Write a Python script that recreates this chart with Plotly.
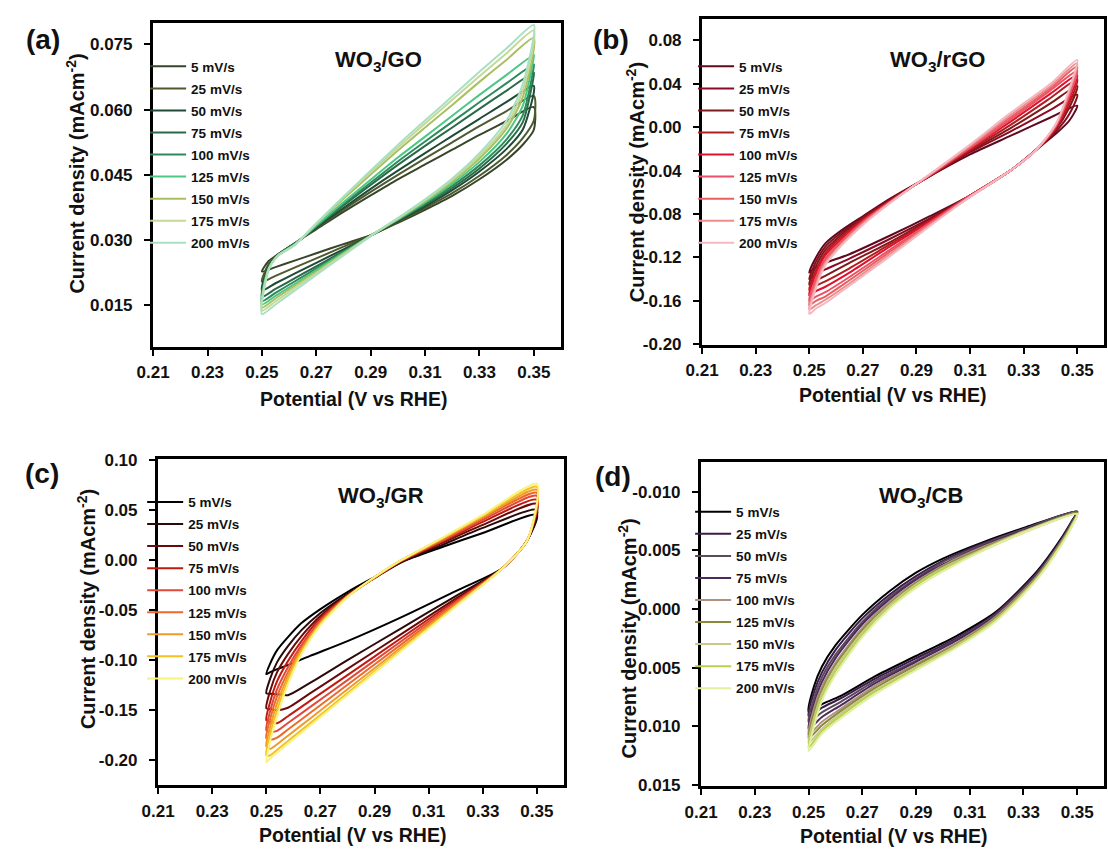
import plotly.graph_objects as go

W, H = 1108, 856

RATES = ["5 mV/s", "25 mV/s", "50 mV/s", "75 mV/s", "100 mV/s",
         "125 mV/s", "150 mV/s", "175 mV/s", "200 mV/s"]

X_TICKS = [0.21, 0.23, 0.25, 0.27, 0.29, 0.31, 0.33, 0.35]
X_TICK_TEXT = ["0.21", "0.23", "0.25", "0.27", "0.29", "0.31", "0.33", "0.35"]

# ---------------- (a) WO3/GO ----------------
GO_COLORS = ["#37462a", "#4f5a2e", "#1f4a35", "#2a6a48", "#2e8a5a",
             "#4cc784", "#a8c060", "#c5d898", "#a8e0c0"]
GO_POT_FWD = [0.250, 0.255, 0.262, 0.270, 0.280, 0.291, 0.300, 0.310, 0.320, 0.330, 0.340, 0.346, 0.350]
GO_CUR_FWD = [
    [0.0228, 0.0238, 0.0253, 0.0270, 0.0291, 0.0314, 0.0340, 0.0370, 0.0402, 0.0440, 0.0485, 0.0520, 0.0554],
    [0.0205, 0.0218, 0.0237, 0.0258, 0.0285, 0.0314, 0.0342, 0.0374, 0.0408, 0.0448, 0.0496, 0.0535, 0.0575],
    [0.0185, 0.0201, 0.0223, 0.0248, 0.0279, 0.0314, 0.0344, 0.0378, 0.0415, 0.0458, 0.0510, 0.0555, 0.0640],
    [0.0170, 0.0188, 0.0212, 0.0240, 0.0275, 0.0314, 0.0346, 0.0381, 0.0420, 0.0465, 0.0522, 0.0572, 0.0680],
    [0.0160, 0.0179, 0.0205, 0.0235, 0.0273, 0.0314, 0.0347, 0.0384, 0.0425, 0.0472, 0.0532, 0.0588, 0.0700],
    [0.0152, 0.0172, 0.0199, 0.0231, 0.0271, 0.0314, 0.0348, 0.0387, 0.0430, 0.0480, 0.0545, 0.0610, 0.0722],
    [0.0145, 0.0166, 0.0195, 0.0227, 0.0269, 0.0314, 0.0349, 0.0390, 0.0435, 0.0488, 0.0557, 0.0630, 0.0765],
    [0.0138, 0.0159, 0.0190, 0.0224, 0.0267, 0.0314, 0.0350, 0.0392, 0.0439, 0.0494, 0.0565, 0.0645, 0.0782],
    [0.0130, 0.0152, 0.0184, 0.0220, 0.0265, 0.0314, 0.0351, 0.0394, 0.0442, 0.0500, 0.0575, 0.0660, 0.0795],
]
GO_POT_REV = [0.350, 0.340, 0.330, 0.320, 0.310, 0.300, 0.290, 0.280, 0.270, 0.262, 0.256, 0.2525, 0.250]
GO_CUR_REV = [
    [0.0606, 0.0574, 0.0542, 0.0508, 0.0474, 0.0440, 0.0403, 0.0365, 0.0325, 0.0293, 0.0268, 0.0252, 0.0228],
    [0.0632, 0.0597, 0.0562, 0.0525, 0.0488, 0.0450, 0.0411, 0.0370, 0.0327, 0.0292, 0.0267, 0.0245, 0.0205],
    [0.0655, 0.0618, 0.0579, 0.0540, 0.0500, 0.0460, 0.0418, 0.0374, 0.0329, 0.0292, 0.0267, 0.0240, 0.0185],
    [0.0685, 0.0644, 0.0602, 0.0559, 0.0517, 0.0473, 0.0427, 0.0380, 0.0331, 0.0291, 0.0266, 0.0237, 0.0170],
    [0.0704, 0.0661, 0.0617, 0.0572, 0.0527, 0.0481, 0.0432, 0.0383, 0.0332, 0.0291, 0.0266, 0.0236, 0.0160],
    [0.0726, 0.0680, 0.0634, 0.0586, 0.0538, 0.0490, 0.0439, 0.0387, 0.0334, 0.0290, 0.0266, 0.0235, 0.0152],
    [0.0765, 0.0715, 0.0664, 0.0611, 0.0559, 0.0506, 0.0451, 0.0395, 0.0337, 0.0289, 0.0265, 0.0234, 0.0145],
    [0.0782, 0.0730, 0.0677, 0.0623, 0.0568, 0.0513, 0.0456, 0.0399, 0.0338, 0.0289, 0.0265, 0.0233, 0.0138],
    [0.0795, 0.0741, 0.0687, 0.0631, 0.0575, 0.0519, 0.0460, 0.0400, 0.0339, 0.0288, 0.0265, 0.0232, 0.0130],
]
GO_Y_TICKS = [0.015, 0.030, 0.045, 0.060, 0.075]
GO_Y_TEXT = ["0.015", "0.030", "0.045", "0.060", "0.075"]

# ---------------- (b) WO3/rGO ----------------
RGO_COLORS = ["#5f0a1e", "#8c0a23", "#7d1a1a", "#b01e1e", "#e0102e",
              "#ec5068", "#e66060", "#ee8c8c", "#f5b8c2"]
RGO_POT_FWD = [0.250, 0.2525, 0.256, 0.262, 0.270, 0.280, 0.295, 0.310, 0.325, 0.340, 0.350]
RGO_CUR_FWD = [
    [-0.134, -0.120, -0.107, -0.095, -0.082, -0.066, -0.045, -0.025, -0.008, 0.009, 0.020],
    [-0.140, -0.124, -0.110, -0.097, -0.083, -0.067, -0.045, -0.023, -0.004, 0.016, 0.030],
    [-0.145, -0.128, -0.113, -0.099, -0.084, -0.0675, -0.0447, -0.022, -0.001, 0.022, 0.038],
    [-0.150, -0.132, -0.116, -0.101, -0.085, -0.068, -0.0445, -0.021, 0.002, 0.027, 0.044],
    [-0.155, -0.135, -0.118, -0.103, -0.086, -0.0685, -0.0443, -0.020, 0.005, 0.031, 0.048],
    [-0.160, -0.139, -0.121, -0.105, -0.087, -0.069, -0.0441, -0.019, 0.007, 0.034, 0.052],
    [-0.164, -0.142, -0.123, -0.106, -0.088, -0.0693, -0.0438, -0.018, 0.009, 0.036, 0.056],
    [-0.168, -0.145, -0.125, -0.108, -0.089, -0.0697, -0.0435, -0.017, 0.011, 0.038, 0.059],
    [-0.172, -0.148, -0.127, -0.109, -0.090, -0.070, -0.0432, -0.016, 0.013, 0.040, 0.062],
]
RGO_POT_REV = [0.350, 0.347, 0.342, 0.335, 0.325, 0.310, 0.295, 0.280, 0.265, 0.256, 0.2525, 0.250]
RGO_CUR_REV = [
    [0.020, 0.006, -0.006, -0.020, -0.040, -0.063, -0.082, -0.100, -0.117, -0.125, -0.129, -0.134],
    [0.030, 0.012, -0.004, -0.020, -0.040, -0.063, -0.084, -0.103, -0.121, -0.131, -0.135, -0.140],
    [0.038, 0.018, -0.002, -0.020, -0.040, -0.063, -0.085, -0.106, -0.125, -0.137, -0.141, -0.145],
    [0.044, 0.022, -0.001, -0.020, -0.040, -0.063, -0.086, -0.108, -0.130, -0.142, -0.146, -0.150],
    [0.048, 0.026, 0.000, -0.020, -0.040, -0.063, -0.087, -0.110, -0.134, -0.147, -0.151, -0.155],
    [0.052, 0.029, 0.001, -0.020, -0.040, -0.063, -0.088, -0.113, -0.138, -0.152, -0.156, -0.160],
    [0.056, 0.031, 0.002, -0.020, -0.040, -0.064, -0.089, -0.115, -0.141, -0.156, -0.160, -0.164],
    [0.059, 0.033, 0.0025, -0.020, -0.040, -0.064, -0.090, -0.117, -0.144, -0.159, -0.164, -0.168],
    [0.062, 0.035, 0.003, -0.020, -0.040, -0.064, -0.091, -0.119, -0.146, -0.162, -0.167, -0.172],
]
RGO_Y_TICKS = [-0.20, -0.16, -0.12, -0.08, -0.04, 0.00, 0.04, 0.08]
RGO_Y_TEXT = ["-0.20", "-0.16", "-0.12", "-0.08", "-0.04", "0.00", "0.04", "0.08"]

# ---------------- (c) WO3/GR ----------------
GR_COLORS = ["#000000", "#2d0a0a", "#690a0a", "#c01a10", "#e04a3a",
             "#ec6a2a", "#f09a2a", "#f5c020", "#f8f27e"]
GR_POT_FWD = [0.250, 0.2515, 0.254, 0.258, 0.263, 0.270, 0.280, 0.290, 0.300, 0.315, 0.330, 0.350]
GR_CUR_FWD = [
    [-0.114, -0.103, -0.090, -0.077, -0.063, -0.049, -0.032, -0.017, -0.002, 0.013, 0.027, 0.045],
    [-0.133, -0.118, -0.102, -0.086, -0.070, -0.053, -0.034, -0.018, -0.002, 0.015, 0.032, 0.050],
    [-0.148, -0.130, -0.112, -0.094, -0.076, -0.056, -0.035, -0.018, -0.001, 0.017, 0.035, 0.056],
    [-0.160, -0.141, -0.121, -0.101, -0.081, -0.058, -0.0355, -0.0178, -0.001, 0.018, 0.038, 0.060],
    [-0.170, -0.150, -0.129, -0.107, -0.085, -0.060, -0.036, -0.0177, -0.0005, 0.019, 0.040, 0.064],
    [-0.178, -0.158, -0.136, -0.112, -0.088, -0.062, -0.0363, -0.0175, -0.0005, 0.020, 0.042, 0.067],
    [-0.186, -0.166, -0.143, -0.116, -0.090, -0.063, -0.0366, -0.0173, 0.000, 0.021, 0.043, 0.070],
    [-0.195, -0.173, -0.150, -0.120, -0.092, -0.064, -0.0368, -0.0172, 0.000, 0.0215, 0.044, 0.073],
    [-0.202, -0.180, -0.156, -0.124, -0.094, -0.065, -0.037, -0.017, 0.000, 0.022, 0.045, 0.076],
]
GR_POT_REV = [0.350, 0.3465, 0.3374, 0.320, 0.300, 0.280, 0.266, 0.258, 0.254, 0.2515, 0.250]
GR_CUR_REV = [
    [0.045, 0.020, -0.008, -0.031, -0.057, -0.081, -0.096, -0.105, -0.109, -0.112, -0.114],
    [0.050, 0.020, -0.008, -0.036, -0.068, -0.100, -0.123, -0.135, -0.134, -0.1335, -0.133],
    [0.056, 0.020, -0.008, -0.0386, -0.0737, -0.1088, -0.1334, -0.1475, -0.150, -0.149, -0.148],
    [0.060, 0.020, -0.008, -0.0404, -0.0777, -0.115, -0.141, -0.156, -0.163, -0.1615, -0.160],
    [0.064, 0.020, -0.008, -0.0419, -0.0809, -0.1199, -0.1472, -0.1628, -0.1706, -0.1715, -0.170],
    [0.067, 0.020, -0.008, -0.0433, -0.0840, -0.1246, -0.1530, -0.1693, -0.1774, -0.1795, -0.178],
    [0.070, 0.020, -0.008, -0.0447, -0.0869, -0.1291, -0.1587, -0.1755, -0.1840, -0.1885, -0.186],
    [0.073, 0.020, -0.008, -0.0459, -0.0894, -0.1329, -0.1634, -0.1808, -0.1895, -0.1950, -0.195],
    [0.076, 0.020, -0.008, -0.0464, -0.0906, -0.1348, -0.1657, -0.1834, -0.1923, -0.1978, -0.202],
]
GR_Y_TICKS = [-0.20, -0.15, -0.10, -0.05, 0.00, 0.05, 0.10]
GR_Y_TEXT = ["-0.20", "-0.15", "-0.10", "-0.05", "0.00", "0.05", "0.10"]

# ---------------- (d) WO3/CB ----------------
CB_COLORS = ["#000000", "#3c1a4b", "#5a4a5a", "#4b2a5c", "#b09080",
             "#8a8a3a", "#c8c88a", "#b8d050", "#e0f0a0"]
CB_POT_FWD = [0.250, 0.252, 0.255, 0.260, 0.270, 0.280, 0.290, 0.300, 0.315, 0.330, 0.350]
CB_CUR_FWD = [
    [0.0087, 0.0066, 0.0049, 0.0031, 0.0005, -0.0015, -0.0031, -0.0043, -0.0057, -0.0069, -0.0083],
    [0.0091, 0.0071, 0.0054, 0.0035, 0.0008, -0.0012, -0.0028, -0.0041, -0.0056, -0.0068, -0.0083],
    [0.0096, 0.0076, 0.0058, 0.0039, 0.0011, -0.0010, -0.0026, -0.0040, -0.0055, -0.0068, -0.0083],
    [0.0102, 0.0081, 0.0062, 0.0042, 0.0013, -0.0008, -0.0025, -0.0038, -0.0054, -0.0067, -0.0082],
    [0.0107, 0.0085, 0.0066, 0.0046, 0.0016, -0.0006, -0.0023, -0.0037, -0.0053, -0.0066, -0.0082],
    [0.0110, 0.0089, 0.0069, 0.0048, 0.0018, -0.0004, -0.0022, -0.0036, -0.0052, -0.0066, -0.0082],
    [0.0114, 0.0093, 0.0072, 0.0050, 0.0020, -0.0003, -0.0021, -0.0035, -0.0051, -0.0066, -0.0081],
    [0.0118, 0.0097, 0.0075, 0.0053, 0.0022, -0.0001, -0.0020, -0.0034, -0.0050, -0.0065, -0.0081],
    [0.0121, 0.0100, 0.0078, 0.0056, 0.0024, 0.0000, -0.0018, -0.0032, -0.0050, -0.0065, -0.0081],
]
CB_POT_REV = [0.350, 0.348, 0.344, 0.335, 0.320, 0.305, 0.290, 0.275, 0.262, 0.255, 0.250]
CB_CUR_REV = [
    [-0.0083, -0.0075, -0.0060, -0.0032, 0.0002, 0.0023, 0.0040, 0.0057, 0.0074, 0.0081, 0.0087],
    [-0.0083, -0.0074, -0.0059, -0.0031, 0.0003, 0.0025, 0.0042, 0.0059, 0.0076, 0.0084, 0.0091],
    [-0.0083, -0.0074, -0.0058, -0.0030, 0.0004, 0.0026, 0.0044, 0.0061, 0.0079, 0.0088, 0.0096],
    [-0.0082, -0.0073, -0.0057, -0.0029, 0.0005, 0.0027, 0.0045, 0.0063, 0.0082, 0.0092, 0.0102],
    [-0.0082, -0.0072, -0.0057, -0.0028, 0.0006, 0.0029, 0.0047, 0.0065, 0.0085, 0.0096, 0.0107],
    [-0.0082, -0.0072, -0.0056, -0.0027, 0.0007, 0.0030, 0.0048, 0.0067, 0.0087, 0.0099, 0.0110],
    [-0.0081, -0.0071, -0.0055, -0.0026, 0.0008, 0.0031, 0.0050, 0.0069, 0.0089, 0.0102, 0.0114],
    [-0.0081, -0.0071, -0.0055, -0.0026, 0.0009, 0.0032, 0.0051, 0.0070, 0.0091, 0.0104, 0.0118],
    [-0.0081, -0.0070, -0.0054, -0.0025, 0.0010, 0.0033, 0.0052, 0.0072, 0.0093, 0.0106, 0.0121],
]
CB_Y_TICKS = [-0.010, -0.005, 0.000, 0.005, 0.010, 0.015]
CB_Y_TEXT = ["-0.010", "-0.005", "0.000", "0.005", "0.010", "0.015"]

FONT = "Liberation Sans, Arial, sans-serif"

# panel layout in pixels: (left, right, top, bottom)
PANELS = [
    dict(key="", box=(139, 553, 14, 345), yrange=[0.0055, 0.08], yt=GO_Y_TICKS, ytt=GO_Y_TEXT,
         pf=GO_POT_FWD, cf=GO_CUR_FWD, pr=GO_POT_REV, cr=GO_CUR_REV, colors=GO_COLORS,
         title="WO<sub>3</sub>/GO", title_xy=(368, 53), label="(a)", label_xy=(27, 31),
         legend_xy=(131, 43), ytitle_xy=(60, 168), xtitle_xy=(342, 398)),
    dict(key="2", box=(696, 1104, 10, 343), yrange=[-0.2005, 0.1], yt=RGO_Y_TICKS, ytt=RGO_Y_TEXT,
         pf=RGO_POT_FWD, cf=RGO_CUR_FWD, pr=RGO_POT_REV, cr=RGO_CUR_REV, colors=RGO_COLORS,
         title="WO<sub>3</sub>/rGO", title_xy=(935, 53), label="(b)", label_xy=(604, 31),
         legend_xy=(687, 43), ytitle_xy=(628, 177), xtitle_xy=(889, 394)),
    dict(key="3", box=(144, 556, 460, 793), yrange=[-0.225, 0.1005], yt=GR_Y_TICKS, ytt=GR_Y_TEXT,
         pf=GR_POT_FWD, cf=GR_CUR_FWD, pr=GR_POT_REV, cr=GR_CUR_REV, colors=GR_COLORS,
         title="WO<sub>3</sub>/GR", title_xy=(370, 498), label="(c)", label_xy=(26, 474),
         legend_xy=(128, 488), ytitle_xy=(71, 613), xtitle_xy=(341, 844)),
    dict(key="4", box=(695, 1104, 463, 794), yrange=[0.0151, -0.0125], yt=CB_Y_TICKS, ytt=CB_Y_TEXT,
         pf=CB_POT_FWD, cf=CB_CUR_FWD, pr=CB_POT_REV, cr=CB_CUR_REV, colors=CB_COLORS,
         title="WO<sub>3</sub>/CB", title_xy=(918, 498), label="(d)", label_xy=(606, 478),
         legend_xy=(684, 498), ytitle_xy=(620, 643), xtitle_xy=(890, 845)),
]


def fx(p):
    return p / W


def fy(p):
    return 1 - p / H


fig = go.Figure()
annotations = []
layout = dict(width=W, height=H, margin=dict(l=0, r=0, t=0, b=0),
              paper_bgcolor="white", plot_bgcolor="white", showlegend=True,
              font=dict(family=FONT, color="#111111"))


def ann(x, y, text, size, angle=0):
    return dict(x=fx(x), y=fy(y), xref="paper", yref="paper", text=text,
                xanchor="center", yanchor="middle", textangle=angle, showarrow=False,
                font=dict(family=FONT, size=size, color="#111111", weight="bold"))


for p in PANELS:
    k = p["key"]
    xa, ya = "x" + k, "y" + k
    leg = "legend" + k
    for i, name in enumerate(RATES):
        xs = list(p["pf"])
        ys = list(p["cf"][i])
        for xv, yv in zip(p["pr"], p["cr"][i]):
            if xv == xs[-1] and yv == ys[-1]:
                continue
            xs.append(xv)
            ys.append(yv)
        fig.add_trace(go.Scatter(
            x=xs, y=ys, mode="lines", name=name, xaxis=xa, yaxis=ya, legend=leg,
            legendgroup=k + name,
            line=dict(color=p["colors"][i], width=2, shape="spline", smoothing=0.7),
            hoverinfo="skip"))
    l, r, t, b = p["box"]
    axis_common = dict(showline=True, linecolor="black", linewidth=3, mirror=True,
                       ticks="outside", ticklen=6, tickwidth=2, tickcolor="black",
                       showgrid=False, zeroline=False,
                       tickfont=dict(family=FONT, size=17, color="#111111", weight="bold"))
    layout["xaxis" + k] = dict(domain=[fx(l), fx(r)], anchor=ya, range=[0.20995, 0.36],
                               tickmode="array", tickvals=X_TICKS, ticktext=X_TICK_TEXT,
                               ticklabelstandoff=2, **axis_common)
    layout["yaxis" + k] = dict(domain=[fy(b), fy(t)], anchor=xa, range=p["yrange"],
                               tickmode="array", tickvals=p["yt"], ticktext=p["ytt"],
                               ticklabelstandoff=8, **axis_common)
    lx, ly = p["legend_xy"]
    layout[leg] = dict(x=fx(lx), y=fy(ly), xanchor="left", yanchor="top",
                       bgcolor="rgba(0,0,0,0)", borderwidth=0, tracegroupgap=1.5,
                       itemwidth=36,
                       font=dict(family=FONT, size=13.5, color="#111111", weight="bold"))
    annotations.append(ann(*p["title_xy"], p["title"], 22))
    annotations.append(ann(*p["label_xy"], p["label"], 28))
    annotations.append(ann(*p["ytitle_xy"], "Current density (mAcm<sup>-2</sup>)", 20, -90))
    annotations.append(ann(*p["xtitle_xy"], "Potential (V vs RHE)", 19.5))

layout["annotations"] = annotations
fig.update_layout(**layout)
fig.write_html("out.html")
